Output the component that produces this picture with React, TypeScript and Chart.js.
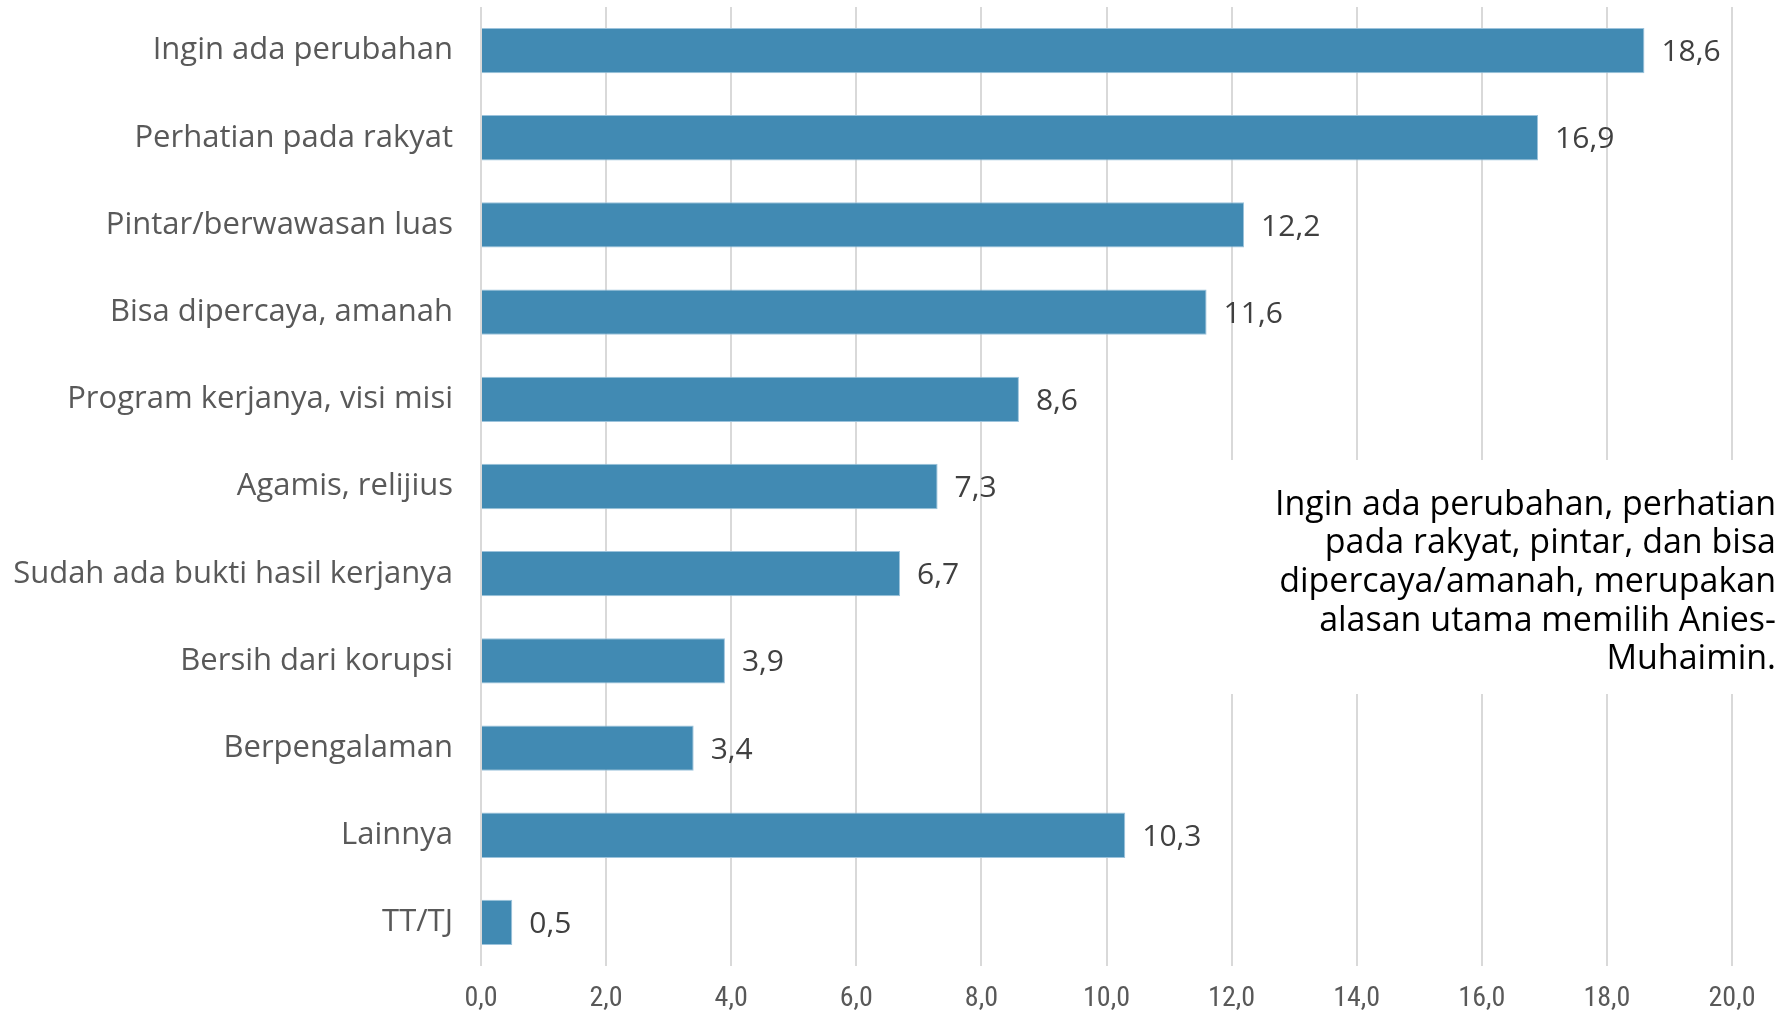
import React, { useEffect, useRef } from "react";
import { Chart, registerables } from "chart.js";

Chart.register(...registerables);

const categories = [
  "Ingin ada perubahan",
  "Perhatian pada rakyat",
  "Pintar/berwawasan luas",
  "Bisa dipercaya, amanah",
  "Program kerjanya, visi misi",
  "Agamis, relijius",
  "Sudah ada bukti hasil kerjanya",
  "Bersih dari korupsi",
  "Berpengalaman",
  "Lainnya",
  "TT/TJ",
];
const values = [18.6, 16.9, 12.2, 11.6, 8.6, 7.3, 6.7, 3.9, 3.4, 10.3, 0.5];
const annotationLines = [
  "Ingin ada perubahan, perhatian",
  "pada rakyat, pintar, dan bisa",
  "dipercaya/amanah, merupakan",
  "alasan utama memilih Anies-",
  "Muhaimin.",
];

const fmt = (v: number) => v.toFixed(1).replace(".", ",");
const MAIN_FONT = "'Open Sans', 'Noto Sans', sans-serif";

const labelPlugin = {
  id: "valueLabels",
  afterDatasetsDraw(chart: any) {
    const ctx = chart.ctx;
    const meta = chart.getDatasetMeta(0);
    ctx.save();
    ctx.font = `30px ${MAIN_FONT}`;
    ctx.fillStyle = "#404040";
    ctx.textAlign = "left";
    ctx.textBaseline = "middle";
    meta.data.forEach((bar: any, i: number) => {
      ctx.fillText(fmt(values[i]), bar.x + 17, bar.y + 2);
    });
    ctx.restore();
  },
  afterDraw(chart: any) {
    const ctx = chart.ctx;
    ctx.save();
    ctx.fillStyle = "#ffffff";
    ctx.fillRect(1222, 460, 568, 234);
    ctx.font = `34px ${MAIN_FONT}`;
    ctx.fillStyle = "#000000";
    ctx.textAlign = "right";
    ctx.textBaseline = "middle";
    annotationLines.forEach((line, i) => {
      ctx.fillText(line, 1776, 505 + i * 38.7);
    });
    ctx.restore();
  },
};

export default function App() {
  const ref = useRef<HTMLCanvasElement>(null);
  useEffect(() => {
    if (!ref.current) return;
    const chart = new Chart(ref.current, {
      type: "bar",
      data: {
        labels: categories,
        datasets: [
          {
            data: values,
            backgroundColor: "#418AB3",
            borderColor: "#9cc3dc",
            borderWidth: 1,
            barPercentage: 0.52,
            categoryPercentage: 1,
          },
        ],
      },
      options: {
        indexAxis: "y",
        animation: false,
        responsive: false,
        maintainAspectRatio: false,
        layout: { padding: { top: 7, right: 58, left: 0, bottom: 0 } },
        plugins: { legend: { display: false }, tooltip: { enabled: false } },
        scales: {
          x: {
            min: 0,
            max: 20,
            ticks: {
              stepSize: 2,
              color: "#595959",
              font: { family: "'Liberation Sans Narrow', 'Roboto Condensed', Roboto, sans-serif", size: 28 },
              padding: 16,
              callback: (v: any) => fmt(Number(v)),
            },
            grid: { color: "#d9d9d9", lineWidth: 2, drawTicks: false },
            border: { display: false },
            afterFit: (s: any) => {
              s.height = 48;
              s.paddingLeft = 0;
              s.paddingRight = 0;
              s.paddingTop = 0;
              s.paddingBottom = 0;
            },
          },
          y: {
            ticks: {
              color: "#595959",
              font: { family: MAIN_FONT, size: 31 },
              padding: 28,
            },
            grid: { display: false, drawTicks: false },
            border: { display: false },
            afterFit: (s: any) => {
              s.width = 481;
              s.paddingLeft = 0;
              s.paddingRight = 0;
              s.paddingTop = 0;
              s.paddingBottom = 0;
            },
          },
        },
      },
      plugins: [labelPlugin],
    });
    return () => chart.destroy();
  }, []);
  return (
    <div style={{ position: "absolute", left: 0, top: 0, width: 1790, height: 1014, background: "#fff" }}>
      <canvas ref={ref} width={1790} height={1014} style={{ width: 1790, height: 1014 }} />
    </div>
  );
}
